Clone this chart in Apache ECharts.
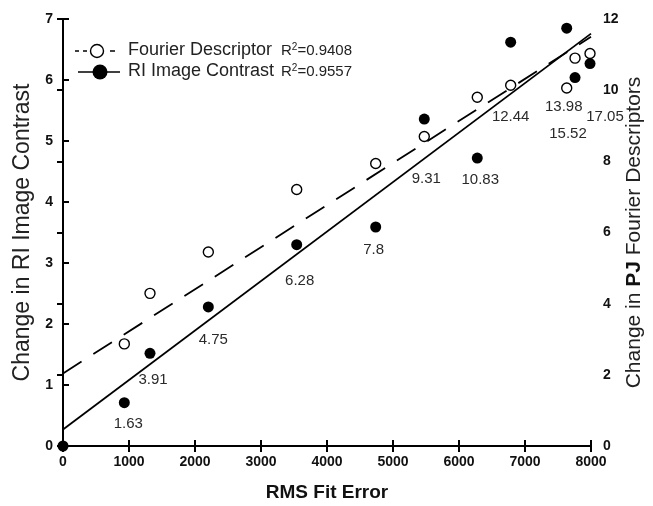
<!DOCTYPE html>
<html>
<head>
<meta charset="utf-8">
<script src="https://cdn.jsdelivr.net/npm/echarts@6/dist/echarts.min.js"></script>
<style>
html,body{margin:0;padding:0;background:#fff;}
#c{width:653px;height:506px;}
</style>
</head>
<body>
<div id="c"></div>
<script>
// ---- data ----
var rmsError = [929, 1318, 2202, 3541, 4738, 5474, 6277, 6783, 7632, 7758, 7985];
var riContrast = [0.71, 1.52, 2.28, 3.30, 3.59, 5.36, 4.72, 6.62, 6.85, 6.04, 6.27];
var fourierDesc = [2.87, 4.29, 5.45, 7.21, 7.94, 8.70, 9.80, 10.14, 10.06, 10.90, 11.03];
var pointLabels = ['1.63', '3.91', '4.75', '6.28', '7.8', '9.31', '10.83', '12.44', '13.98', '15.52', '17.05'];
var originPoint = [0, 0];
var fitX = [0, 8000];
var riFit = [0.27, 6.76];
var fourierFit = [2.04, 11.5];
var xTicks = [0, 8000, 1000];
var leftTicks = [0, 7, 1];
var rightTicks = [0, 12, 2];

// ---- layout (label placement only) ----
var labelOffsets = [[4, 21], [3, 27], [5, 33], [3, 36], [-2, 23], [2, 60], [3, 22], [0, 75], [-3, 79], [-7, 56], [15, 53]];

var FONT = '"Liberation Sans", Arial, sans-serif';

var riData = [{value: originPoint, label: {show: false}}].concat(rmsError.map(function (x, i) {
  return {
    value: [x, riContrast[i]],
    label: {show: true, formatter: pointLabels[i], offset: labelOffsets[i]}
  };
}));
var fdData = rmsError.map(function (x, i) { return [x, fourierDesc[i]]; });

var chart = echarts.init(document.getElementById('c'), null, {renderer: 'canvas'});
var axisLine = {show: true, lineStyle: {color: '#000', width: 2}};
var axisTick = {show: true, inside: true, length: 6, lineStyle: {color: '#000', width: 2}};
var tickLabel = {color: '#111', fontFamily: FONT, fontWeight: 'bold', fontSize: 14, formatter: function (v) { return String(v); }};

chart.setOption({
  animation: false,
  backgroundColor: '#fff',
  grid: {left: 63, right: 62, top: 19, bottom: 60, containLabel: false, outerBoundsMode: 'none'},
  xAxis: [{
    type: 'value', min: xTicks[0], max: xTicks[1], interval: xTicks[2],
    name: 'RMS Fit Error', nameLocation: 'middle', nameGap: 37,
    nameTextStyle: {fontFamily: FONT, fontWeight: 'bold', fontSize: 19, color: '#111'},
    axisLine: axisLine, axisTick: axisTick,
    axisLabel: Object.assign({margin: 9}, tickLabel),
    splitLine: {show: false}
  }, {
    type: 'value', position: 'top', min: xTicks[0], max: xTicks[1], interval: xTicks[2],
    axisLine: axisLine, axisTick: axisTick, axisLabel: {show: false}, splitLine: {show: false}
  }],
  yAxis: [{
    type: 'value', min: leftTicks[0], max: leftTicks[1], interval: leftTicks[2],
    name: 'Change in RI Image Contrast', nameLocation: 'middle', nameGap: 29,
    nameTextStyle: {fontFamily: FONT, fontSize: 23, color: '#222'},
    axisLine: axisLine, axisTick: axisTick,
    axisLabel: Object.assign({margin: 10}, tickLabel),
    splitLine: {show: false}
  }, {
    type: 'value', position: 'right', min: rightTicks[0], max: rightTicks[1], interval: rightTicks[2],
    name: '{n|Change in }{b|PJ}{n| Fourier Descriptors}', nameLocation: 'middle', nameGap: 33,
    nameMoveOverlap: false,
    nameTextStyle: {
      fontFamily: FONT, fontSize: 21, color: '#222',
      rich: {
        n: {fontFamily: FONT, fontSize: 21, color: '#222'},
        b: {fontFamily: FONT, fontSize: 21, color: '#111', fontWeight: 'bold'}
      }
    },
    axisLine: axisLine, axisTick: axisTick,
    axisLabel: Object.assign({margin: 12}, tickLabel),
    splitLine: {show: false}
  }],
  series: [{
    name: 'RI fit', type: 'line', xAxisIndex: 0, yAxisIndex: 0,
    data: fitX.map(function (x, i) { return [x, riFit[i]]; }),
    symbol: 'none', lineStyle: {color: '#000', width: 1.8}, z: 2
  }, {
    name: 'Fourier fit', type: 'line', xAxisIndex: 0, yAxisIndex: 1,
    data: fitX.map(function (x, i) { return [x, fourierFit[i]]; }),
    symbol: 'none', lineStyle: {color: '#000', width: 1.8, type: [22, 14]}, z: 2
  }, {
    name: 'Fourier Descriptor', type: 'scatter', xAxisIndex: 0, yAxisIndex: 1,
    data: fdData, symbol: 'circle', symbolSize: 10,
    itemStyle: {color: '#fff', borderColor: '#000', borderWidth: 1.4, opacity: 1}, z: 3
  }, {
    name: 'RI Image Contrast', type: 'scatter', xAxisIndex: 0, yAxisIndex: 0,
    data: riData, symbol: 'circle', symbolSize: 11, clip: false,
    itemStyle: {color: '#000', opacity: 1},
    label: {position: 'inside', color: '#2a2a2a', fontFamily: FONT, fontSize: 15},
    z: 4
  }],
  graphic: [
    // legend row 1 (dashed, open circle)
    {type: 'line', shape: {x1: 75, y1: 51, x2: 79, y2: 51}, style: {stroke: '#000', lineWidth: 1.5}},
    {type: 'line', shape: {x1: 83, y1: 51, x2: 87, y2: 51}, style: {stroke: '#000', lineWidth: 1.5}},
    {type: 'circle', shape: {cx: 97, cy: 51, r: 6.5}, style: {fill: '#fff', stroke: '#000', lineWidth: 1.4}},
    {type: 'line', shape: {x1: 110, y1: 51, x2: 115, y2: 51}, style: {stroke: '#000', lineWidth: 1.5}},
    {type: 'text', left: 128, top: 41, style: {text: 'Fourier Descriptor', font: '18px ' + FONT, fill: '#222'}},
    {type: 'text', left: 281, top: 42, style: {
      text: '{r|R}{s|2}{r|=0.9408}',
      rich: {r: {font: '15px ' + FONT, fill: '#222'}, s: {font: '10px ' + FONT, fill: '#222', verticalAlign: 'top', padding: [0, 0, 8, 0]}}
    }},
    // legend row 2 (solid, filled circle)
    {type: 'line', shape: {x1: 78, y1: 72, x2: 120, y2: 72}, style: {stroke: '#000', lineWidth: 1.5}},
    {type: 'circle', shape: {cx: 100, cy: 72, r: 7.5}, style: {fill: '#000'}},
    {type: 'text', left: 128, top: 62, style: {text: 'RI Image Contrast', font: '18px ' + FONT, fill: '#222'}},
    {type: 'text', left: 281, top: 63, style: {
      text: '{r|R}{s|2}{r|=0.9557}',
      rich: {r: {font: '15px ' + FONT, fill: '#222'}, s: {font: '10px ' + FONT, fill: '#222', verticalAlign: 'top', padding: [0, 0, 8, 0]}}
    }}
  ]
});
</script>
</body>
</html>
